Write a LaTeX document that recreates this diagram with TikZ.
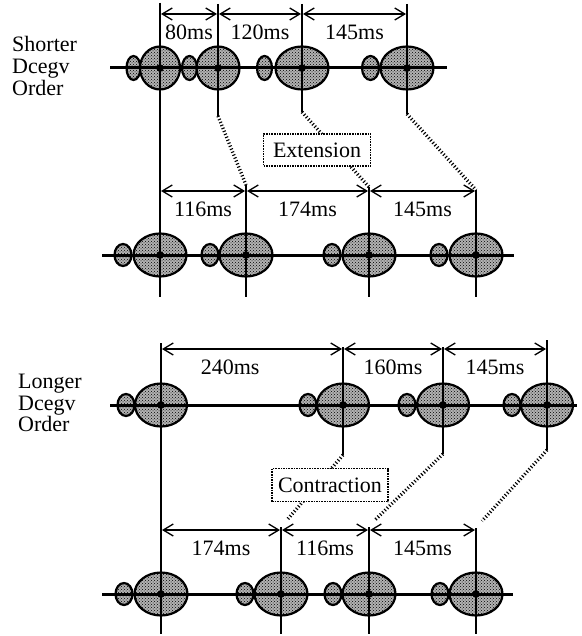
\documentclass[tikz,border=0pt]{standalone}
\usepackage{fontspec}
\setmainfont{Liberation Serif}
\usetikzlibrary{arrows.meta,positioning,calc,shapes.geometric,patterns}

\tikzset{
  pulse/.style={ellipse, draw, line width=2.2pt, fill=gray!60,
    postaction={pattern=crosshatch dots}, inner sep=0pt},
  bigpulse/.style={pulse, minimum height=43pt},
  smallpulse/.style={pulse, minimum height=22pt, minimum width=17pt},
  axisline/.style={line width=3pt},
  tickline/.style={line width=2.2pt},
  dimline/.style={line width=1.3pt,
    {Straight Barb[length=10pt,width=12pt]}-{Straight Barb[length=10pt,width=12pt]},
    shorten <=1pt, shorten >=1pt},
  dimlabel/.style={below=10pt, inner sep=0pt, font=\fontsize{22}{22}\selectfont},
  shiftline/.style={line width=3.4pt, dash pattern=on 1.1pt off 2.1pt},
  notebox/.style={draw, densely dotted, line width=1.6pt, fill=white,
    inner sep=0pt, minimum height=32pt, font=\fontsize{22}{22}\selectfont},
  rowlabel/.style={align=left, anchor=west, inner sep=0pt,
    font=\fontsize{22}{21.6}\selectfont}
}

\begin{document}
\begin{tikzpicture}[x=1pt, y=-1pt]
  \useasboundingbox (0,0) rectangle (581,636);

  % shorter order
  \node[rowlabel] (shortlbl) at (12,66) {Shorter\\Dcegv\\Order};
  \foreach \n/\bx/\bw/\sx/\sw in {1/160/40pt/133.5/14pt, 2/218/43pt/189.5/15pt,
                                  3/302/53pt/264.5/15pt, 4/407/53pt/370.5/17pt}{
    \node[smallpulse, minimum width=\sw, minimum height=24pt] (sa\n) at (\sx,68) {};
    \node[bigpulse, minimum width=\bw] (s\n) at (\bx,68) {};}
  \draw[axisline] (110,68) -- (447,68);
  \foreach \n/\t/\b in {1/3/297, 2/4/116, 3/4/112, 4/4/114}
    \draw[tickline] (s\n |- 0,\t) coordinate (st\n) -- (s\n |- 0,\b) coordinate (sb\n);
  \foreach \n in {1,...,4} \fill (s\n) circle (3.8pt);
  \draw[dimline] (s1 |- 0,14) -- node[dimlabel] {80ms} (s2 |- 0,14);
  \draw[dimline] (s2 |- 0,14) -- node[dimlabel] {120ms} (s3 |- 0,14);
  \draw[dimline] (s3 |- 0,14) -- node[dimlabel] {145ms} (s4 |- 0,14);

  % after extension
  \foreach \n/\bx/\sx in {1/160/123, 2/246/210, 3/369/332, 4/476/439}{
    \node[smallpulse] (ea\n) at (\sx,255) {};
    \node[bigpulse, minimum width=53pt] (e\n) at (\bx,255) {};}
  \draw[axisline] (102,255) -- (514,255);
  \draw[tickline] (s1 |- 0,3) -- (s1 |- 0,297);
  \foreach \n/\t in {2/185, 3/187, 4/190}
    \draw[tickline] (e\n |- 0,\t) coordinate (et\n) -- (e\n |- 0,297);
  \foreach \n in {1,...,4} \fill (e\n) circle (3.8pt);
  \draw[dimline] (e1 |- 0,191) -- node[dimlabel] {116ms} (e2 |- 0,191);
  \draw[dimline] (e2 |- 0,191) -- node[dimlabel] {174ms} (e3 |- 0,191);
  \draw[dimline] (e3 |- 0,191) -- node[dimlabel] {145ms} (e4 |- 0,191);
  \foreach \n in {2,3,4} \draw[shiftline] (sb\n) -- (et\n);
  \node[notebox, minimum width=107pt] (ext) at (317,150) {Extension};

  % longer order
  \node[rowlabel] (longlbl) at (18,403) {Longer\\Dcegv\\Order};
  \foreach \n/\bx/\sx in {1/161/126, 2/343/308, 3/443/407, 4/547/512}{
    \node[smallpulse] (la\n) at (\sx,405) {};
    \node[bigpulse, minimum width=52pt] (l\n) at (\bx,405) {};}
  \draw[axisline] (110,405) -- (577,405);
  \foreach \n/\t/\b in {1/343/634, 2/347/455, 3/347/454, 4/340/450}
    \draw[tickline] (l\n |- 0,\t) coordinate (lt\n) -- (l\n |- 0,\b) coordinate (lb\n);
  \foreach \n in {1,...,4} \fill (l\n) circle (3.8pt);
  \draw[dimline] (l1 |- 0,349) -- node[dimlabel, pos=0.38] {240ms} (l2 |- 0,349);
  \draw[dimline] (l2 |- 0,349) -- node[dimlabel] {160ms} (l3 |- 0,349);
  \draw[dimline] (l3 |- 0,349) -- node[dimlabel] {145ms} (l4 |- 0,349);

  % after contraction
  \foreach \n/\bx/\sx in {1/161/124, 2/281/245, 3/369/333, 4/476/440}{
    \node[smallpulse] (ca\n) at (\sx,594) {};
    \node[bigpulse, minimum width=53pt] (c\n) at (\bx,594) {};}
  \draw[axisline] (102,594) -- (513,594);
  \draw[tickline] (l1 |- 0,343) -- (l1 |- 0,634);
  \foreach \n/\t in {2/527, 3/527, 4/528}
    \draw[tickline] (c\n |- 0,\t) coordinate (ct\n) -- (c\n |- 0,634);
  \foreach \n in {1,...,4} \fill (c\n) circle (3.8pt);
  \draw[dimline] (c1 |- 0,530) -- node[dimlabel] {174ms} (c2 |- 0,530);
  \draw[dimline] (c2 |- 0,530) -- node[dimlabel] {116ms} (c3 |- 0,530);
  \draw[dimline] (c3 |- 0,530) -- node[dimlabel] {145ms} (c4 |- 0,530);
  \foreach \n in {2,3,4} \draw[shiftline] (lb\n) -- ($(ct\n)+(6,-7)$);
  \node[notebox, minimum width=116pt, minimum height=33pt] (con) at (330,485) {Contraction};
\end{tikzpicture}
\end{document}
